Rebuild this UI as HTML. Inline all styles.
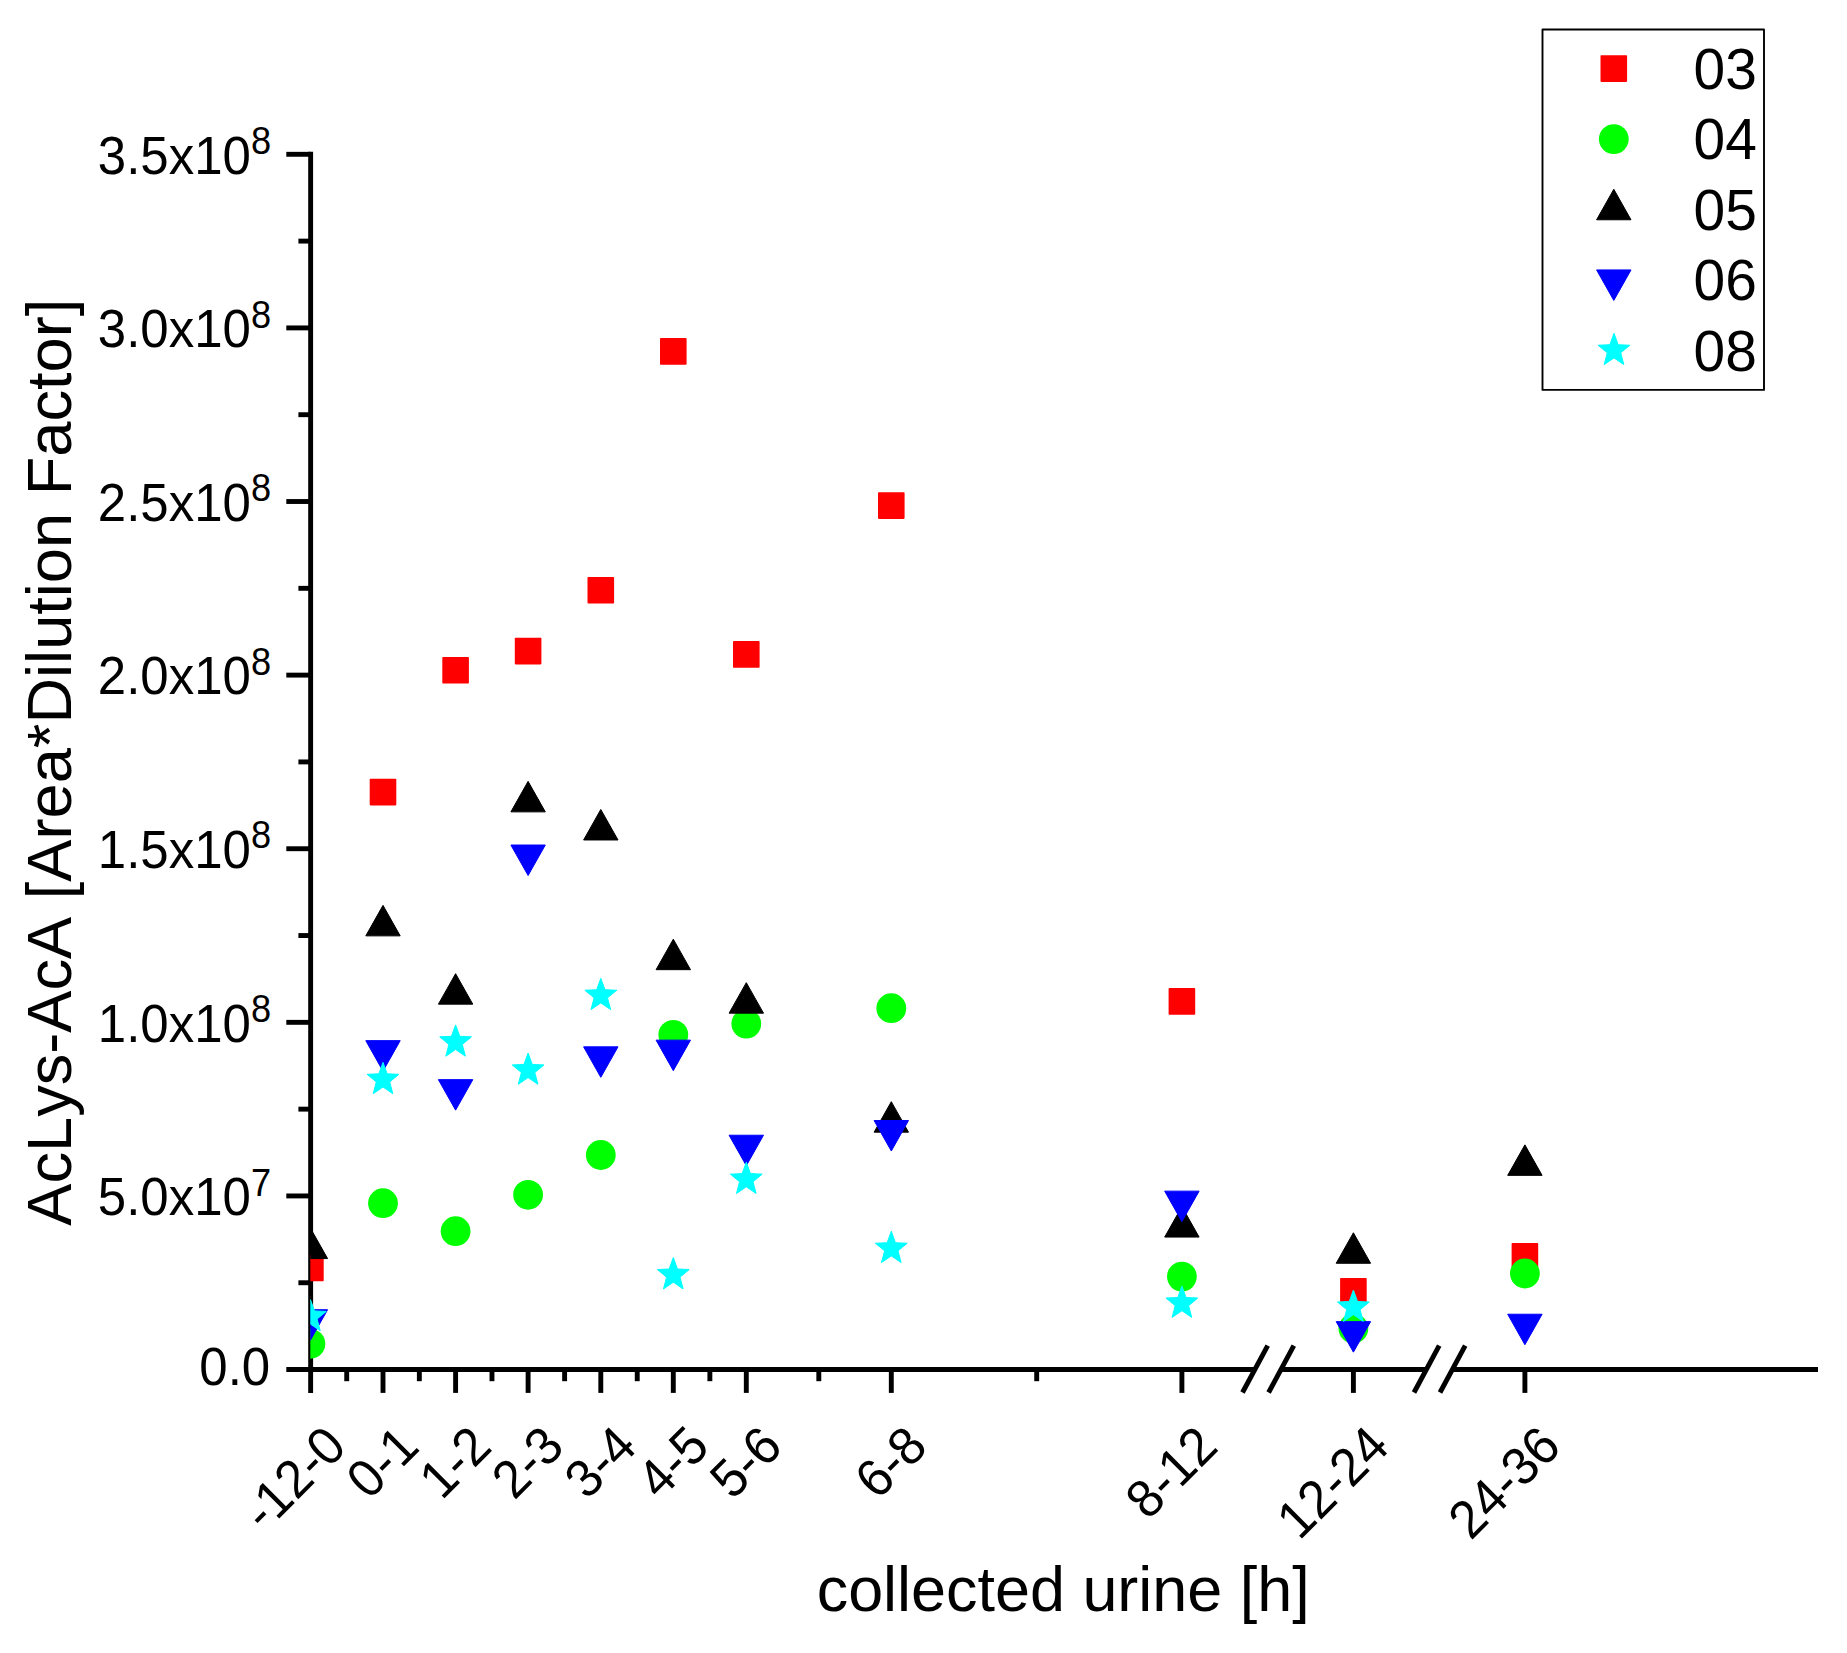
<!DOCTYPE html>
<html><head><meta charset="utf-8"><title>AcLys-AcA collected urine</title>
<style>
html,body{margin:0;padding:0;background:#fff;}
body{width:1847px;height:1653px;overflow:hidden;}
svg{display:block;}
text{font-family:"Liberation Sans",Arial,Helvetica,sans-serif;fill:#000;font-kerning:none;}
.tk{font-size:51px;}
.sup{font-size:36.2px;}
.ttl{font-size:63.2px;}
.lg{font-size:56.9px;}
</style></head><body>
<svg width="1847" height="1653" viewBox="0 0 1847 1653">
<rect width="1847" height="1653" fill="#fff"/>
<defs><clipPath id="cp"><rect x="310.3" y="100" width="1540" height="1300"/></clipPath></defs>
<g stroke="#000" stroke-width="4.9" fill="none" stroke-linecap="butt">
<line x1="310.65" y1="151.8" x2="310.65" y2="1392.9"/>
<line x1="286.3" y1="1369.55" x2="1255" y2="1369.55"/>
<line x1="1281" y1="1369.55" x2="1426.6" y2="1369.55"/>
<line x1="1452.5" y1="1369.55" x2="1818" y2="1369.55"/>
<line x1="298.4" y1="1282.75" x2="310.65" y2="1282.75"/>
<line x1="286.3" y1="1195.94" x2="310.65" y2="1195.94"/>
<line x1="298.4" y1="1109.14" x2="310.65" y2="1109.14"/>
<line x1="286.3" y1="1022.34" x2="310.65" y2="1022.34"/>
<line x1="298.4" y1="935.53" x2="310.65" y2="935.53"/>
<line x1="286.3" y1="848.73" x2="310.65" y2="848.73"/>
<line x1="298.4" y1="761.92" x2="310.65" y2="761.92"/>
<line x1="286.3" y1="675.12" x2="310.65" y2="675.12"/>
<line x1="298.4" y1="588.32" x2="310.65" y2="588.32"/>
<line x1="286.3" y1="501.51" x2="310.65" y2="501.51"/>
<line x1="298.4" y1="414.71" x2="310.65" y2="414.71"/>
<line x1="286.3" y1="327.91" x2="310.65" y2="327.91"/>
<line x1="298.4" y1="241.10" x2="310.65" y2="241.10"/>
<line x1="286.3" y1="154.30" x2="310.65" y2="154.30"/>
<line x1="383.0" y1="1369.55" x2="383.0" y2="1392.9"/>
<line x1="455.6" y1="1369.55" x2="455.6" y2="1392.9"/>
<line x1="528.1" y1="1369.55" x2="528.1" y2="1392.9"/>
<line x1="600.8" y1="1369.55" x2="600.8" y2="1392.9"/>
<line x1="673.3" y1="1369.55" x2="673.3" y2="1392.9"/>
<line x1="746.3" y1="1369.55" x2="746.3" y2="1392.9"/>
<line x1="891.3" y1="1369.55" x2="891.3" y2="1392.9"/>
<line x1="1181.9" y1="1369.55" x2="1181.9" y2="1392.9"/>
<line x1="1353.4" y1="1369.55" x2="1353.4" y2="1392.9"/>
<line x1="1524.9" y1="1369.55" x2="1524.9" y2="1392.9"/>
<line x1="346.71" y1="1369.55" x2="346.71" y2="1381.2"/>
<line x1="419.34" y1="1369.55" x2="419.34" y2="1381.2"/>
<line x1="491.97" y1="1369.55" x2="491.97" y2="1381.2"/>
<line x1="564.61" y1="1369.55" x2="564.61" y2="1381.2"/>
<line x1="637.23" y1="1369.55" x2="637.23" y2="1381.2"/>
<line x1="709.87" y1="1369.55" x2="709.87" y2="1381.2"/>
<line x1="818.81" y1="1369.55" x2="818.81" y2="1381.2"/>
<line x1="1036.70" y1="1369.55" x2="1036.70" y2="1381.2"/>
<line x1="1242.5" y1="1392.5" x2="1267.7" y2="1345.6"/>
<line x1="1268.6" y1="1392.5" x2="1293.8" y2="1345.6"/>
<line x1="1414.0" y1="1392.5" x2="1439.2" y2="1345.6"/>
<line x1="1440.0" y1="1392.5" x2="1465.2" y2="1345.6"/>
</g>
<g clip-path="url(#cp)">
<rect x="297.10" y="1254.60" width="26.6" height="26.6" rx="0.8" fill="#ff0000"/>
<rect x="369.70" y="778.80" width="26.6" height="26.6" rx="0.8" fill="#ff0000"/>
<rect x="442.30" y="656.90" width="26.6" height="26.6" rx="0.8" fill="#ff0000"/>
<rect x="514.80" y="637.80" width="26.6" height="26.6" rx="0.8" fill="#ff0000"/>
<rect x="587.50" y="577.00" width="26.6" height="26.6" rx="0.8" fill="#ff0000"/>
<rect x="660.00" y="338.10" width="26.6" height="26.6" rx="0.8" fill="#ff0000"/>
<rect x="733.00" y="641.10" width="26.6" height="26.6" rx="0.8" fill="#ff0000"/>
<rect x="878.00" y="492.30" width="26.6" height="26.6" rx="0.8" fill="#ff0000"/>
<rect x="1168.60" y="988.10" width="26.6" height="26.6" rx="0.8" fill="#ff0000"/>
<rect x="1340.10" y="1277.90" width="26.6" height="26.6" rx="0.8" fill="#ff0000"/>
<rect x="1511.60" y="1243.10" width="26.6" height="26.6" rx="0.8" fill="#ff0000"/>
<circle cx="310.40" cy="1343.80" r="14.9" fill="#00ff00"/>
<circle cx="383.00" cy="1203.20" r="14.9" fill="#00ff00"/>
<circle cx="455.60" cy="1231.20" r="14.9" fill="#00ff00"/>
<circle cx="528.10" cy="1194.80" r="14.9" fill="#00ff00"/>
<circle cx="600.80" cy="1155.00" r="14.9" fill="#00ff00"/>
<circle cx="673.30" cy="1034.80" r="14.9" fill="#00ff00"/>
<circle cx="746.30" cy="1023.70" r="14.9" fill="#00ff00"/>
<circle cx="891.30" cy="1008.20" r="14.9" fill="#00ff00"/>
<circle cx="1181.90" cy="1276.60" r="14.9" fill="#00ff00"/>
<circle cx="1353.40" cy="1328.50" r="14.9" fill="#00ff00"/>
<circle cx="1524.90" cy="1273.50" r="14.9" fill="#00ff00"/>
<polygon points="310.40,1228.07 327.60,1258.57 293.20,1258.57" fill="#000" stroke="#000" stroke-width="1" stroke-linejoin="round"/>
<polygon points="383.00,905.37 400.20,935.87 365.80,935.87" fill="#000" stroke="#000" stroke-width="1" stroke-linejoin="round"/>
<polygon points="455.60,973.67 472.80,1004.17 438.40,1004.17" fill="#000" stroke="#000" stroke-width="1" stroke-linejoin="round"/>
<polygon points="528.10,781.37 545.30,811.87 510.90,811.87" fill="#000" stroke="#000" stroke-width="1" stroke-linejoin="round"/>
<polygon points="600.80,809.47 618.00,839.97 583.60,839.97" fill="#000" stroke="#000" stroke-width="1" stroke-linejoin="round"/>
<polygon points="673.30,939.17 690.50,969.67 656.10,969.67" fill="#000" stroke="#000" stroke-width="1" stroke-linejoin="round"/>
<polygon points="746.30,982.67 763.50,1013.17 729.10,1013.17" fill="#000" stroke="#000" stroke-width="1" stroke-linejoin="round"/>
<polygon points="891.30,1101.67 908.50,1132.17 874.10,1132.17" fill="#000" stroke="#000" stroke-width="1" stroke-linejoin="round"/>
<polygon points="1181.90,1206.57 1199.10,1237.07 1164.70,1237.07" fill="#000" stroke="#000" stroke-width="1" stroke-linejoin="round"/>
<polygon points="1353.40,1232.77 1370.60,1263.27 1336.20,1263.27" fill="#000" stroke="#000" stroke-width="1" stroke-linejoin="round"/>
<polygon points="1524.90,1144.87 1542.10,1175.37 1507.70,1175.37" fill="#000" stroke="#000" stroke-width="1" stroke-linejoin="round"/>
<polygon points="310.40,1340.23 327.60,1309.73 293.20,1309.73" fill="#0000ff" stroke="#0000ff" stroke-width="1" stroke-linejoin="round"/>
<polygon points="383.00,1071.13 400.20,1040.63 365.80,1040.63" fill="#0000ff" stroke="#0000ff" stroke-width="1" stroke-linejoin="round"/>
<polygon points="455.60,1110.13 472.80,1079.63 438.40,1079.63" fill="#0000ff" stroke="#0000ff" stroke-width="1" stroke-linejoin="round"/>
<polygon points="528.10,875.53 545.30,845.03 510.90,845.03" fill="#0000ff" stroke="#0000ff" stroke-width="1" stroke-linejoin="round"/>
<polygon points="600.80,1077.33 618.00,1046.83 583.60,1046.83" fill="#0000ff" stroke="#0000ff" stroke-width="1" stroke-linejoin="round"/>
<polygon points="673.30,1070.63 690.50,1040.13 656.10,1040.13" fill="#0000ff" stroke="#0000ff" stroke-width="1" stroke-linejoin="round"/>
<polygon points="746.30,1165.73 763.50,1135.23 729.10,1135.23" fill="#0000ff" stroke="#0000ff" stroke-width="1" stroke-linejoin="round"/>
<polygon points="891.30,1151.03 908.50,1120.53 874.10,1120.53" fill="#0000ff" stroke="#0000ff" stroke-width="1" stroke-linejoin="round"/>
<polygon points="1181.90,1221.63 1199.10,1191.13 1164.70,1191.13" fill="#0000ff" stroke="#0000ff" stroke-width="1" stroke-linejoin="round"/>
<polygon points="1353.40,1352.13 1370.60,1321.63 1336.20,1321.63" fill="#0000ff" stroke="#0000ff" stroke-width="1" stroke-linejoin="round"/>
<polygon points="1524.90,1344.73 1542.10,1314.23 1507.70,1314.23" fill="#0000ff" stroke="#0000ff" stroke-width="1" stroke-linejoin="round"/>
<polygon points="310.40,1299.50 314.54,1310.89 326.28,1311.45 317.10,1319.06 320.21,1330.80 310.40,1324.10 300.59,1330.80 303.70,1319.06 294.52,1311.45 306.26,1310.89" fill="#00ffff" stroke="#00ffff" stroke-width="1" stroke-linejoin="round"/>
<polygon points="383.00,1062.40 387.14,1073.79 398.88,1074.35 389.70,1081.96 392.81,1093.70 383.00,1087.00 373.19,1093.70 376.30,1081.96 367.12,1074.35 378.86,1073.79" fill="#00ffff" stroke="#00ffff" stroke-width="1" stroke-linejoin="round"/>
<polygon points="455.60,1024.90 459.74,1036.29 471.48,1036.85 462.30,1044.46 465.41,1056.20 455.60,1049.50 445.79,1056.20 448.90,1044.46 439.72,1036.85 451.46,1036.29" fill="#00ffff" stroke="#00ffff" stroke-width="1" stroke-linejoin="round"/>
<polygon points="528.10,1053.00 532.24,1064.39 543.98,1064.95 534.80,1072.56 537.91,1084.30 528.10,1077.60 518.29,1084.30 521.40,1072.56 512.22,1064.95 523.96,1064.39" fill="#00ffff" stroke="#00ffff" stroke-width="1" stroke-linejoin="round"/>
<polygon points="600.80,978.30 604.94,989.69 616.68,990.25 607.50,997.86 610.61,1009.60 600.80,1002.90 590.99,1009.60 594.10,997.86 584.92,990.25 596.66,989.69" fill="#00ffff" stroke="#00ffff" stroke-width="1" stroke-linejoin="round"/>
<polygon points="673.30,1257.60 677.44,1268.99 689.18,1269.55 680.00,1277.16 683.11,1288.90 673.30,1282.20 663.49,1288.90 666.60,1277.16 657.42,1269.55 669.16,1268.99" fill="#00ffff" stroke="#00ffff" stroke-width="1" stroke-linejoin="round"/>
<polygon points="746.30,1162.20 750.44,1173.59 762.18,1174.15 753.00,1181.76 756.11,1193.50 746.30,1186.80 736.49,1193.50 739.60,1181.76 730.42,1174.15 742.16,1173.59" fill="#00ffff" stroke="#00ffff" stroke-width="1" stroke-linejoin="round"/>
<polygon points="891.30,1231.30 895.44,1242.69 907.18,1243.25 898.00,1250.86 901.11,1262.60 891.30,1255.90 881.49,1262.60 884.60,1250.86 875.42,1243.25 887.16,1242.69" fill="#00ffff" stroke="#00ffff" stroke-width="1" stroke-linejoin="round"/>
<polygon points="1181.90,1286.10 1186.04,1297.49 1197.78,1298.05 1188.60,1305.66 1191.71,1317.40 1181.90,1310.70 1172.09,1317.40 1175.20,1305.66 1166.02,1298.05 1177.76,1297.49" fill="#00ffff" stroke="#00ffff" stroke-width="1" stroke-linejoin="round"/>
<polygon points="1353.40,1290.10 1357.54,1301.49 1369.28,1302.05 1360.10,1309.66 1363.21,1321.40 1353.40,1314.70 1343.59,1321.40 1346.70,1309.66 1337.52,1302.05 1349.26,1301.49" fill="#00ffff" stroke="#00ffff" stroke-width="1" stroke-linejoin="round"/>
</g>
<text class="tk" text-anchor="end" transform="translate(270.2,1385.05) scale(1,1.045)">0.0</text>
<text class="tk" text-anchor="end" transform="translate(250.9,1215.24) scale(1,1.045)">5.0x10</text>
<text class="sup" text-anchor="start" transform="translate(250.9,1195.54) scale(1,1.05)">7</text>
<text class="tk" text-anchor="end" transform="translate(250.9,1041.64) scale(1,1.045)">1.0x10</text>
<text class="sup" text-anchor="start" transform="translate(250.9,1021.94) scale(1,1.05)">8</text>
<text class="tk" text-anchor="end" transform="translate(250.9,868.03) scale(1,1.045)">1.5x10</text>
<text class="sup" text-anchor="start" transform="translate(250.9,848.33) scale(1,1.05)">8</text>
<text class="tk" text-anchor="end" transform="translate(250.9,694.42) scale(1,1.045)">2.0x10</text>
<text class="sup" text-anchor="start" transform="translate(250.9,674.72) scale(1,1.05)">8</text>
<text class="tk" text-anchor="end" transform="translate(250.9,520.81) scale(1,1.045)">2.5x10</text>
<text class="sup" text-anchor="start" transform="translate(250.9,501.11) scale(1,1.05)">8</text>
<text class="tk" text-anchor="end" transform="translate(250.9,347.21) scale(1,1.045)">3.0x10</text>
<text class="sup" text-anchor="start" transform="translate(250.9,327.51) scale(1,1.05)">8</text>
<text class="tk" text-anchor="end" transform="translate(250.9,173.60) scale(1,1.045)">3.5x10</text>
<text class="sup" text-anchor="start" transform="translate(250.9,153.90) scale(1,1.05)">8</text>
<text class="tk" text-anchor="end" transform="translate(348.60,1449) rotate(-45) scale(1,1.045)">-12-0</text>
<text class="tk" text-anchor="end" transform="translate(421.20,1449) rotate(-45) scale(1,1.045)">0-1</text>
<text class="tk" text-anchor="end" transform="translate(493.80,1449) rotate(-45) scale(1,1.045)">1-2</text>
<text class="tk" text-anchor="end" transform="translate(566.30,1449) rotate(-45) scale(1,1.045)">2-3</text>
<text class="tk" text-anchor="end" transform="translate(639.00,1449) rotate(-45) scale(1,1.045)">3-4</text>
<text class="tk" text-anchor="end" transform="translate(711.50,1449) rotate(-45) scale(1,1.045)">4-5</text>
<text class="tk" text-anchor="end" transform="translate(784.50,1449) rotate(-45) scale(1,1.045)">5-6</text>
<text class="tk" text-anchor="end" transform="translate(929.50,1449) rotate(-45) scale(1,1.045)">6-8</text>
<text class="tk" text-anchor="end" transform="translate(1220.10,1449) rotate(-45) scale(1,1.045)">8-12</text>
<text class="tk" text-anchor="end" transform="translate(1391.60,1449) rotate(-45) scale(1,1.045)">12-24</text>
<text class="tk" text-anchor="end" transform="translate(1563.10,1449) rotate(-45) scale(1,1.045)">24-36</text>
<text class="ttl" style="font-size:62.9px" x="816.7" y="1611.2">collected urine [h]</text>
<text class="ttl" text-anchor="middle" transform="translate(70.8,762.2) rotate(-90)">AcLys-AcA [Area*Dilution Factor]</text>
<rect x="1542.5" y="29.5" width="221.5" height="360.4" fill="#fff" stroke="#000" stroke-width="1.9" stroke-linejoin="round"/>
<rect x="1600.50" y="55.30" width="26.6" height="26.6" rx="0.8" fill="#ff0000"/>
<circle cx="1613.80" cy="139.10" r="14.9" fill="#00ff00"/>
<polygon points="1613.80,189.27 1631.00,219.77 1596.60,219.77" fill="#000" stroke="#000" stroke-width="1" stroke-linejoin="round"/>
<polygon points="1613.80,300.43 1631.00,269.93 1596.60,269.93" fill="#0000ff" stroke="#0000ff" stroke-width="1" stroke-linejoin="round"/>
<polygon points="1614.00,333.30 1618.14,344.69 1629.88,345.25 1620.70,352.86 1623.81,364.60 1614.00,357.90 1604.19,364.60 1607.30,352.86 1598.12,345.25 1609.86,344.69" fill="#00ffff" stroke="#00ffff" stroke-width="1" stroke-linejoin="round"/>
<text class="lg" x="1693.5" y="88.60">03</text>
<text class="lg" x="1693.5" y="159.10">04</text>
<text class="lg" x="1693.5" y="229.60">05</text>
<text class="lg" x="1693.5" y="300.10">06</text>
<text class="lg" x="1693.5" y="370.60">08</text>
</svg></body></html>
